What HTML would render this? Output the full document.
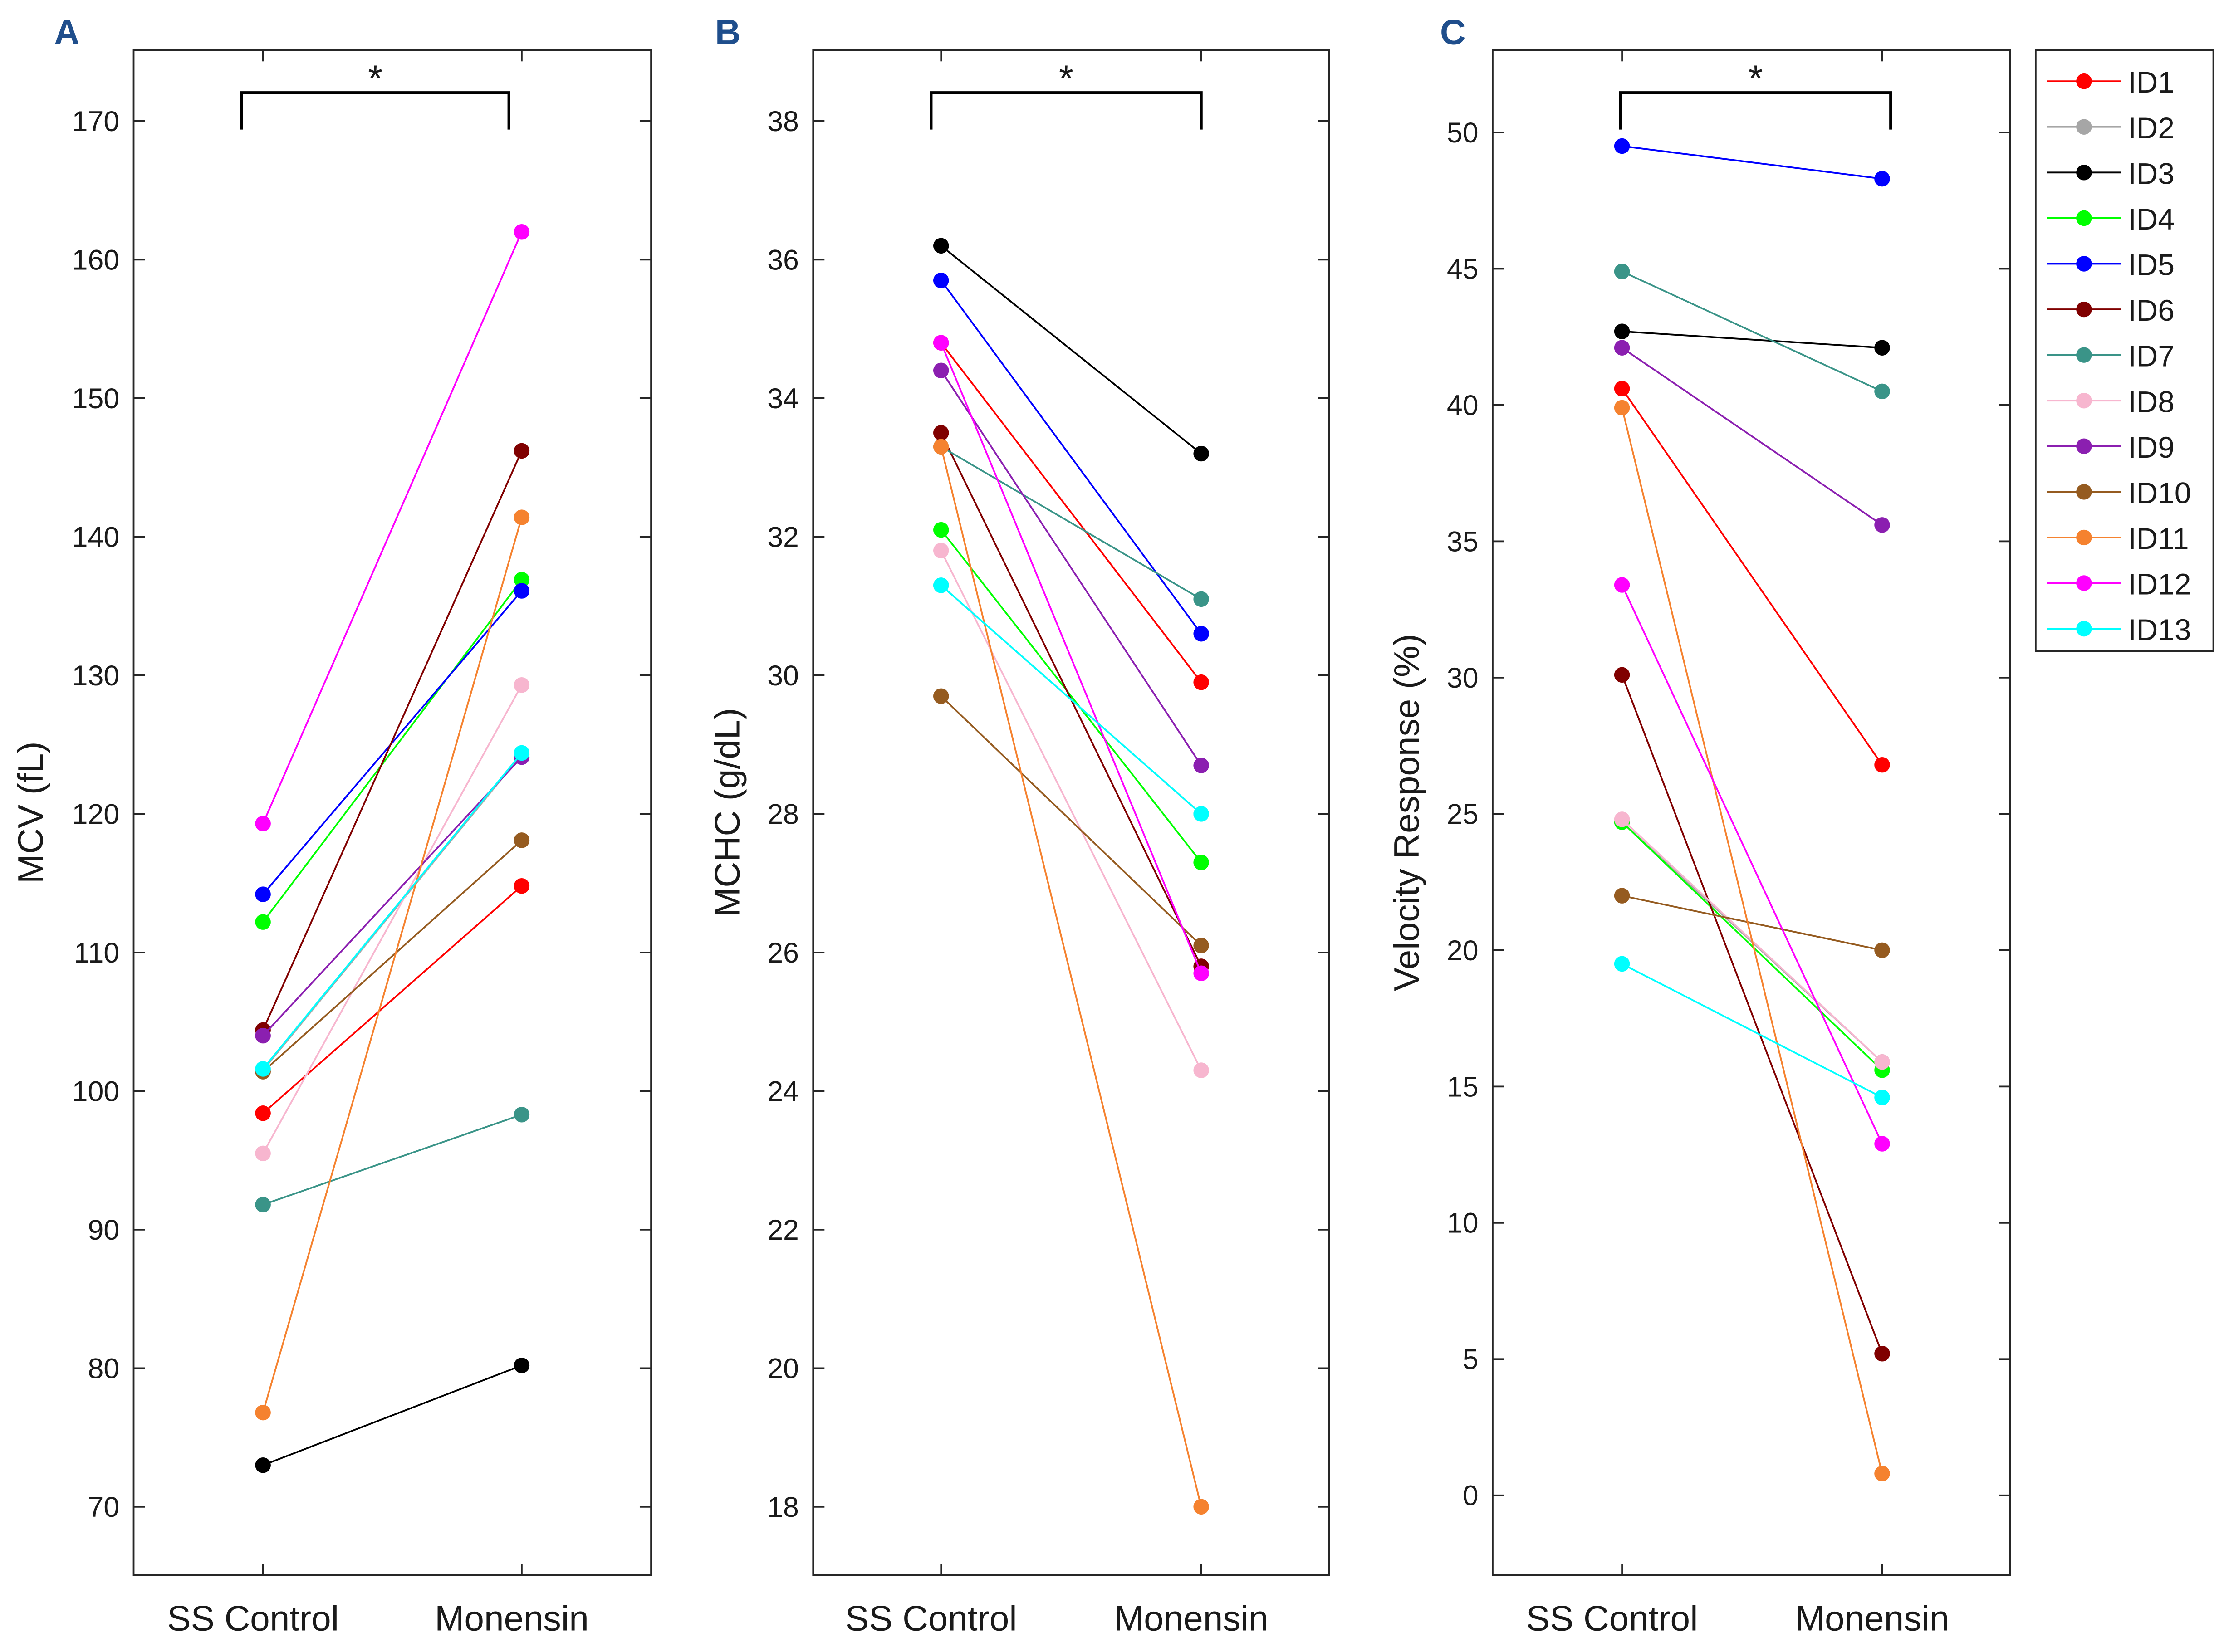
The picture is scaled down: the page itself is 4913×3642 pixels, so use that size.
<!DOCTYPE html>
<html><head><meta charset="utf-8"><style>
html,body{margin:0;padding:0;background:#fff}
svg{display:block}
text{font-family:"Liberation Sans",sans-serif;fill:#1a1a1a}
</style></head><body>
<svg id="fig" width="4913" height="3642" viewBox="0 0 1568 1162" xmlns="http://www.w3.org/2000/svg">
<rect width="1568" height="1162" fill="#fff"/>
</svg>
<script>
const ids = ["ID1","ID2","ID3","ID4","ID5","ID6","ID7","ID8","ID9","ID10","ID11","ID12","ID13"];
const colors = ["#ff0000","#a6a6a6","#000000","#00ff00","#0000ff","#800000","#3a9488","#f7b6cf","#8b1fb0","#955b20","#f5822f","#ff00ff","#00ffff"];
const categories = ["SS Control","Monensin"];
const mcvControl = [98.4,101.5,73,112.2,114.2,104.4,91.8,95.5,104,101.4,76.8,119.3,101.6];
const mcvMonensin = [114.8,124.3,80.2,136.9,136.1,146.2,98.3,129.3,124.1,118.1,141.4,162,124.4];
const mchcControl = [34.8,31.3,36.2,32.1,35.7,33.5,33.3,31.8,34.4,29.7,33.3,34.8,31.3];
const mchcMonensin = [29.9,28.0,33.2,27.3,30.6,25.8,31.1,24.3,28.7,26.1,18.0,25.7,28.0];
const velControl = [40.6,24.7,42.7,24.7,49.5,30.1,44.9,24.8,42.1,22,39.9,33.4,19.5];
const velMonensin = [26.8,15.9,42.1,15.6,48.3,5.2,40.5,15.9,35.6,20,0.8,12.9,14.6];
const mcvTicks = [70,80,90,100,110,120,130,140,150,160,170];
const mchcTicks = [18,20,22,24,26,28,30,32,34,36,38];
const velTicks = [0,5,10,15,20,25,30,35,40,45,50];

const NS="http://www.w3.org/2000/svg";
const svg=document.getElementById('fig');
function mk(tag,attrs,parent,txt){const e=document.createElementNS(NS,tag);for(const k in attrs)e.setAttribute(k,attrs[k]);if(txt!==undefined)e.textContent=txt;(parent||svg).appendChild(e);return e;}

const panels=[
 {letter:"A",letX:38,br:[170,358],x0:94,x1:458,ctrl:mcvControl,mon:mcvMonensin,ticks:mcvTicks,vlo:70,ylo:1060,vhi:170,yhi:85,cx:[185,367],label:"MCV (fL)",lx:30},
 {letter:"B",letX:503,br:[655,845],x0:572,x1:935,ctrl:mchcControl,mon:mchcMonensin,ticks:mchcTicks,vlo:18,ylo:1060,vhi:38,yhi:85,cx:[662,845],label:"MCHC (g/dL)",lx:520},
 {letter:"C",letX:1013,br:[1140,1330],x0:1050,x1:1414,ctrl:velControl,mon:velMonensin,ticks:velTicks,vlo:0,ylo:1052,vhi:50,yhi:93,cx:[1141,1324],label:"Velocity Response (%)",lx:998}
];
const plotTop=35,plotBot=1108;
panels.forEach((p,pi)=>{
  const g=mk('g',{});
  
  
  const ys=v=>p.ylo+(v-p.vlo)*(p.yhi-p.ylo)/(p.vhi-p.vlo);
  const frame=mk('rect',{x:p.x0,y:plotTop,width:p.x1-p.x0,height:plotBot-plotTop,fill:'none',stroke:'#262626','stroke-width':1.2},g);
  
  
  p.ticks.forEach(t=>{
    const yy=ys(t);
    mk('line',{x1:p.x0,x2:p.x0+8,y1:yy,y2:yy,stroke:'#262626','stroke-width':1.2},g);
    mk('line',{x1:p.x1,x2:p.x1-8,y1:yy,y2:yy,stroke:'#262626','stroke-width':1.2},g);
    const tl=mk('text',{x:p.x0-10,y:yy+7,'text-anchor':'end','font-size':20},g,String(t));
    
    
  });
  categories.forEach((c,ci)=>{
    const xx=p.cx[ci];
    mk('line',{x1:xx,x2:xx,y1:plotBot,y2:plotBot-8,stroke:'#262626','stroke-width':1.2},g);
    mk('line',{x1:xx,x2:xx,y1:plotTop,y2:plotTop+8,stroke:'#262626','stroke-width':1.2},g);
    const cl=mk('text',{x:xx-7,y:1147,'text-anchor':'middle','font-size':25},g,c);
    
    
  });
  const my=(plotTop+plotBot)/2;
  const yl=mk('text',{x:p.lx,y:my,'text-anchor':'middle','font-size':25,transform:`rotate(-90 ${p.lx} ${my})`},g,p.label);
  
  
  const pl=mk('text',{x:p.letX,y:31,'font-size':25,'font-weight':'bold',style:'fill:#1f4e8c'},g,p.letter);
  
  
  const bx0=p.br[0],bx1=p.br[1];
  const br=mk('path',{d:`M${bx0} 91 V65 H${bx1} V91`,fill:'none',stroke:'#000','stroke-width':2},g);
  
  
  const st=mk('text',{x:(bx0+bx1)/2,y:64,'text-anchor':'middle','font-size':26},g,'*');
  
  
  ids.forEach((id,i)=>{
    const y0=ys(p.ctrl[i]),y1=ys(p.mon[i]);
    const ln=mk('line',{x1:p.cx[0],y1:y0,x2:p.cx[1],y2:y1,stroke:colors[i],'stroke-width':1.2},g);
    
    
    [[p.cx[0],y0],[p.cx[1],y1]].forEach(([xx,yy])=>{
      const c=mk('circle',{cx:xx,cy:yy,r:5.5,fill:colors[i]},g);
      
      
    });
  });
});
const lg=mk('g',{});


mk('rect',{x:1432,y:35,width:125,height:423,fill:'#fff',stroke:'#262626','stroke-width':1.2},lg);
ids.forEach((id,i)=>{
  const yy=57+i*32.1;
  const e=mk('g',{},lg);
  
  
  mk('line',{x1:1440,x2:1492,y1:yy,y2:yy,stroke:colors[i],'stroke-width':1.2},e);
  mk('circle',{cx:1466,cy:yy,r:5.5,fill:colors[i]},e);
  mk('text',{x:1497,y:yy+8,'font-size':21},e,id);
});
</script>
</body></html>
